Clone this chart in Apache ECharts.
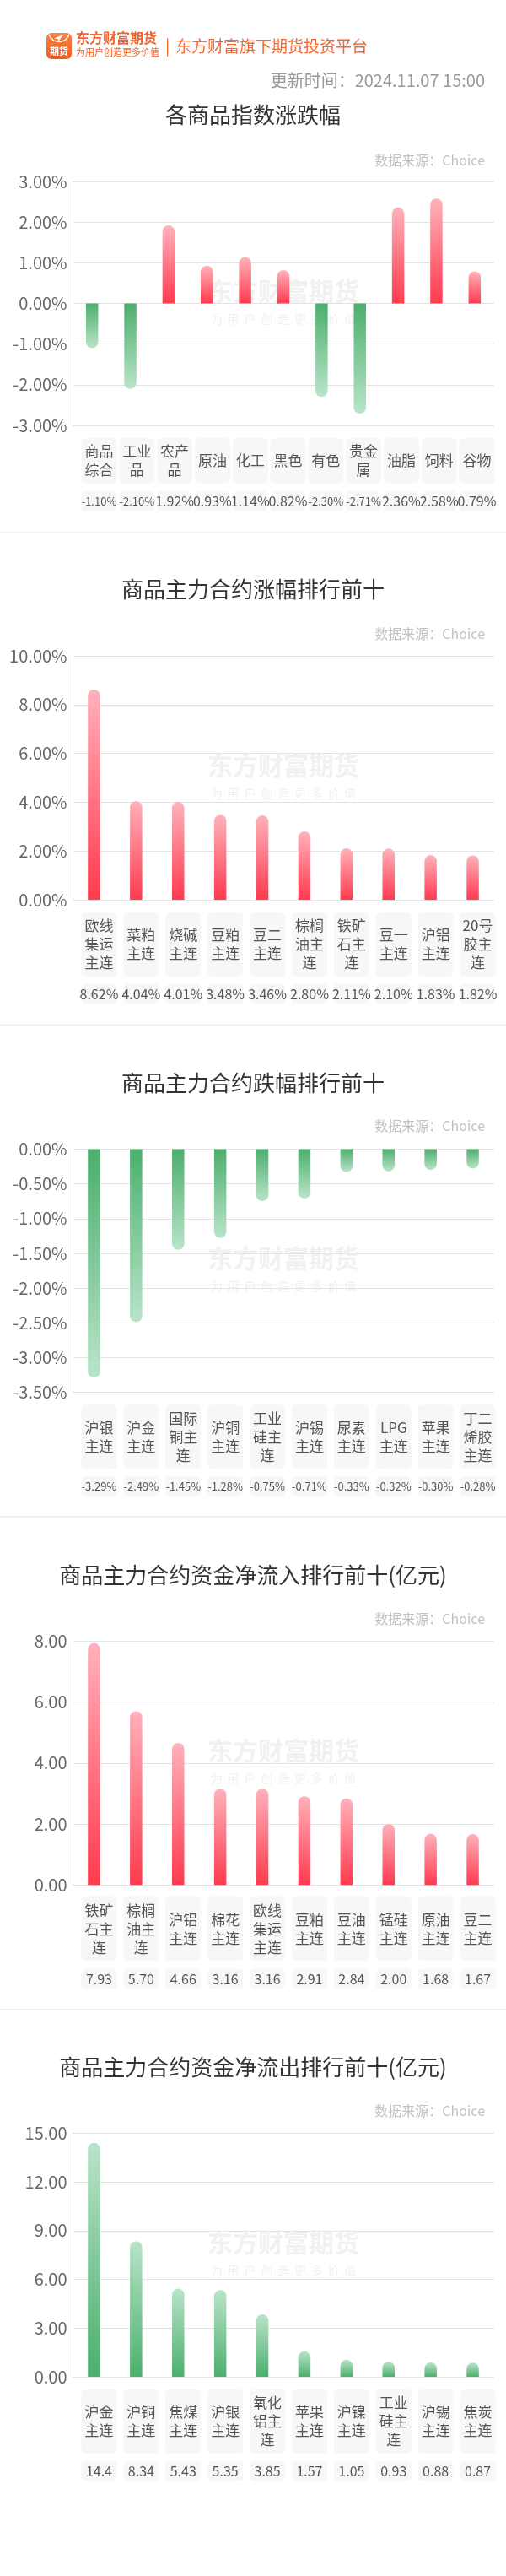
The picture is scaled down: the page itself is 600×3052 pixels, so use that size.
<!DOCTYPE html>
<html><head><meta charset="utf-8">
<script src="https://cdn.jsdelivr.net/npm/echarts@6.0.0/dist/echarts.min.js"></script>
<style>html,body{margin:0;padding:0;background:#fff}#c{width:600px;height:3052px}</style>
</head><body><div id="c"></div>
<script>
const FONT = "'Noto Sans CJK SC','Noto Sans',sans-serif";

// ---- data ----
const updateTime = '2024.11.07 15:00';
const sourceText = '数据来源：Choice';
const titles = ['各商品指数涨跌幅', '商品主力合约涨幅排行前十', '商品主力合约跌幅排行前十', '商品主力合约资金净流入排行前十(亿元)', '商品主力合约资金净流出排行前十(亿元)'];

const indexNames = ['商品综合', '工业品', '农产品', '原油', '化工', '黑色', '有色', '贵金属', '油脂', '饲料', '谷物'];
const indexChanges = [-1.10, -2.10, 1.92, 0.93, 1.14, 0.82, -2.30, -2.71, 2.36, 2.58, 0.79];

const gainNames = ['欧线集运主连', '菜粕主连', '烧碱主连', '豆粕主连', '豆二主连', '棕榈油主连', '铁矿石主连', '豆一主连', '沪铝主连', '20号胶主连'];
const gainValues = [8.62, 4.04, 4.01, 3.48, 3.46, 2.80, 2.11, 2.10, 1.83, 1.82];

const lossNames = ['沪银主连', '沪金主连', '国际铜主连', '沪铜主连', '工业硅主连', '沪锡主连', '尿素主连', 'LPG主连', '苹果主连', '丁二烯胶主连'];
const lossValues = [-3.29, -2.49, -1.45, -1.28, -0.75, -0.71, -0.33, -0.32, -0.30, -0.28];

const inflowNames = ['铁矿石主连', '棕榈油主连', '沪铝主连', '棉花主连', '欧线集运主连', '豆粕主连', '豆油主连', '锰硅主连', '原油主连', '豆二主连'];
const inflowValues = [7.93, 5.70, 4.66, 3.16, 3.16, 2.91, 2.84, 2.00, 1.68, 1.67];

const outflowNames = ['沪金主连', '沪铜主连', '焦煤主连', '沪银主连', '氧化铝主连', '苹果主连', '沪镍主连', '工业硅主连', '沪锡主连', '焦炭主连'];
const outflowValues = [14.4, 8.34, 5.43, 5.35, 3.85, 1.57, 1.05, 0.93, 0.88, 0.87];

const axisRanges = [
  { min: -3, max: 3, interval: 1 },
  { min: 0, max: 10, interval: 2 },
  { min: -3.5, max: 0, interval: 0.5 },
  { min: 0, max: 8, interval: 2 },
  { min: 0, max: 15, interval: 3 }
];

// ---- layout ----
const layout = [
  { titleY: 136, srcY: 190, top: 215, bottom: 504, nameOff: 42, nameH: 54, valOff: 90, labelLeft: 95.1, labelWidth: 492.8, sepY: 631, pct: true, style: 'mixed' },
  { titleY: 698, srcY: 751, top: 777, bottom: 1066, nameOff: 53, nameH: 76, valOff: 111.5, labelLeft: 92.5, labelWidth: 499, sepY: 1214, pct: true, style: 'red' },
  { titleY: 1283, srcY: 1334, top: 1361.5, bottom: 1649.5, nameOff: 53, nameH: 76, valOff: 111.5, labelLeft: 92.5, labelWidth: 499, sepY: 1797, pct: true, style: 'greenDown' },
  { titleY: 1866, srcY: 1918, top: 1944.3, bottom: 2233.3, nameOff: 52, nameH: 76, valOff: 111.2, labelLeft: 92.5, labelWidth: 499, sepY: 2381, pct: false, style: 'red' },
  { titleY: 2449, srcY: 2501, top: 2527.3, bottom: 2816, nameOff: 53, nameH: 76, valOff: 111.5, labelLeft: 92.5, labelWidth: 499, sepY: null, pct: false, style: 'greenUp' }
];
const datasets = [
  [indexNames, indexChanges], [gainNames, gainValues], [lossNames, lossValues],
  [inflowNames, inflowValues], [outflowNames, outflowValues]
];

function wrapName(s) {
  const lines = []; let cur = '', w = 0;
  for (const ch of s) {
    const cw = /[\x00-\x7f]/.test(ch) ? 0.5 : 1;
    if (w + cw > 2 && cur) { lines.push(cur); cur = ''; w = 0; }
    cur += ch; w += cw;
  }
  if (cur) lines.push(cur);
  return lines.join('\n');
}
function grad(top, bottom) {
  return new echarts.graphic.LinearGradient(0, 0, 0, 1, [{ offset: 0, color: top }, { offset: 1, color: bottom }]);
}
const RED_LIGHT = '#ffb2bb', RED_DARK = '#ff3a4e', GREEN_DARK = '#4caf6d', GREEN_LIGHT = '#b9e4c9';
const R = 7.25;

const grids = [], xAxes = [], yAxes = [], series = [], graphics = [];

// header
graphics.push({ type: 'rect', shape: { x: 55, y: 39, width: 30, height: 31, r: 6 }, style: { fill: grad('#f7843f', '#ee5a25') } });
graphics.push({ type: 'arc', shape: { cx: 70, cy: 37, r: 12.5, startAngle: 0.3, endAngle: Math.PI - 0.3 }, style: { stroke: '#fff', lineWidth: 1.3, fill: null } });
graphics.push({ type: 'polygon', shape: { points: [[64, 45.5], [76, 40.5], [69.5, 48.5], [68.5, 46]] }, style: { fill: '#fff' } });
graphics.push({ type: 'text', x: 70, y: 61, style: { text: '期货', font: 'bold 11px ' + FONT, fill: '#fff', align: 'center', verticalAlign: 'middle' } });
graphics.push({ type: 'text', x: 90, y: 45, style: { text: '东方财富期货', font: 'bold 16px ' + FONT, fill: '#ef6430', verticalAlign: 'middle' } });
graphics.push({ type: 'text', x: 90, y: 62, style: { text: '为用户创造更多价值', font: '11px ' + FONT, fill: '#ef6430', verticalAlign: 'middle' } });
graphics.push({ type: 'rect', shape: { x: 198, y: 45.5, width: 1.3, height: 21 }, style: { fill: '#ef6430' } });
graphics.push({ type: 'text', x: 208, y: 55, style: { text: '东方财富旗下期货投资平台', font: '19px ' + FONT, fill: '#f06a34', verticalAlign: 'middle' } });
graphics.push({ type: 'text', x: 575, y: 95, style: { text: '更新时间：' + updateTime, font: '20px ' + FONT, fill: '#999999', align: 'right', verticalAlign: 'middle' } });

const wmSub = '为用户创造更多价值';

layout.forEach((L, i) => {
  const names = datasets[i][0], values = datasets[i][1], rg = axisRanges[i];
  const gridLeft = 86.5, gridWidth = 499;
  // texts
  graphics.push({ type: 'text', x: 300, y: L.titleY, style: { text: titles[i], font: '26px ' + FONT, fill: '#333333', align: 'center', verticalAlign: 'middle' } });
  graphics.push({ type: 'text', x: 575, y: L.srcY, style: { text: sourceText, font: '16px ' + FONT, fill: '#c2c2c2', align: 'right', verticalAlign: 'middle' } });
  // watermark
  const cx = gridLeft + gridWidth / 2, cy = (L.top + L.bottom) / 2;
  graphics.push({ type: 'text', x: cx, y: cy - 15, z: 0, style: { text: '东方财富期货', font: 'bold 30px ' + FONT, fill: '#f1f1f1', align: 'center', verticalAlign: 'middle' } });
  for (let k = 0; k < wmSub.length; k++) {
    graphics.push({ type: 'text', x: cx + (k - 4) * 19.8, y: cy + 18, z: 0, style: { text: wmSub[k], font: '14px ' + FONT, fill: '#f1f1f1', align: 'center', verticalAlign: 'middle' } });
  }
  if (L.sepY) graphics.push({ type: 'rect', shape: { x: 0, y: L.sepY - 1, width: 600, height: 2 }, style: { fill: '#f2f2f2' } });

  const gBar = grids.length;
  grids.push({ left: gridLeft, width: gridWidth, top: L.top, height: L.bottom - L.top, containLabel: false });
  const gLab = grids.length;
  grids.push({ left: L.labelLeft, width: L.labelWidth, top: L.bottom + L.nameOff, height: L.valOff - L.nameOff, containLabel: false });

  const yBar = yAxes.length;
  yAxes.push({
    gridIndex: gBar, type: 'value', min: rg.min, max: rg.max, interval: rg.interval,
    axisLine: { show: true, lineStyle: { color: '#e3e3e3' } }, axisTick: { show: false },
    splitLine: { show: true, lineStyle: { color: '#e3e3e3', width: 1 } },
    axisLabel: { margin: 7, color: '#666666', fontSize: 20, fontFamily: FONT, formatter: v => L.pct ? v.toFixed(2) + '%' : v.toFixed(2) }
  });
  yAxes.push({ gridIndex: gLab, type: 'value', show: false });

  const xBar = xAxes.length;
  xAxes.push({ gridIndex: gBar, type: 'category', data: names, axisLine: { show: false }, axisTick: { show: false }, axisLabel: { show: false } });
  xAxes.push({
    gridIndex: gLab, type: 'category', data: names, position: 'top',
    axisLine: { show: false }, axisTick: { show: false },
    axisLabel: {
      interval: 0, margin: 0, verticalAlign: 'middle', align: 'center',
      formatter: wrapName, color: '#555555', fontSize: 17, fontFamily: FONT, lineHeight: 22,
      width: 42, height: L.nameH, backgroundColor: '#f7f7f7', borderRadius: 5
    }
  });
  xAxes.push({
    gridIndex: gLab, type: 'category', data: values.map(v => String(v)), position: 'bottom',
    axisLine: { show: false }, axisTick: { show: false },
    axisLabel: {
      interval: 0, margin: 0, verticalAlign: 'middle', align: 'center',
      formatter: (s) => {
        const v = parseFloat(s);
        const t = L.pct ? v.toFixed(2) + '%' : (Math.abs(v) >= 10 ? v.toFixed(1) : v.toFixed(2));
        return t.length > 5 ? '{s|' + t + '}' : '{n|' + t + '}';
      },
      width: 42, height: 24, backgroundColor: '#f7f7f7', borderRadius: 5, lineHeight: 24,
      rich: {
        n: { fontSize: 16, color: '#555555', fontFamily: FONT, lineHeight: 24 },
        s: { fontSize: 13, color: '#555555', fontFamily: FONT, lineHeight: 24 }
      }
    }
  });

  const data = values.map(v => {
    let color;
    if (L.style === 'red' || (L.style === 'mixed' && v >= 0)) color = grad(RED_LIGHT, RED_DARK);
    else if (L.style === 'greenUp') color = grad(GREEN_LIGHT, GREEN_DARK);
    else color = grad(GREEN_DARK, GREEN_LIGHT);
    return { value: v, itemStyle: { color: color, borderRadius: v >= 0 ? [R, R, 0, 0] : [0, 0, R, R] } };
  });
  series.push({ type: 'bar', xAxisIndex: xBar, yAxisIndex: yBar, data: data, barWidth: 14.5, z: 3, silent: true, animation: false });
});

const chart = echarts.init(document.getElementById('c'), null, { renderer: 'canvas', width: 600, height: 3052 });
chart.setOption({
  animation: false,
  backgroundColor: '#ffffff',
  textStyle: { fontFamily: FONT },
  grid: grids, xAxis: xAxes, yAxis: yAxes, series: series,
  graphic: { elements: graphics }
});
</script></body></html>
